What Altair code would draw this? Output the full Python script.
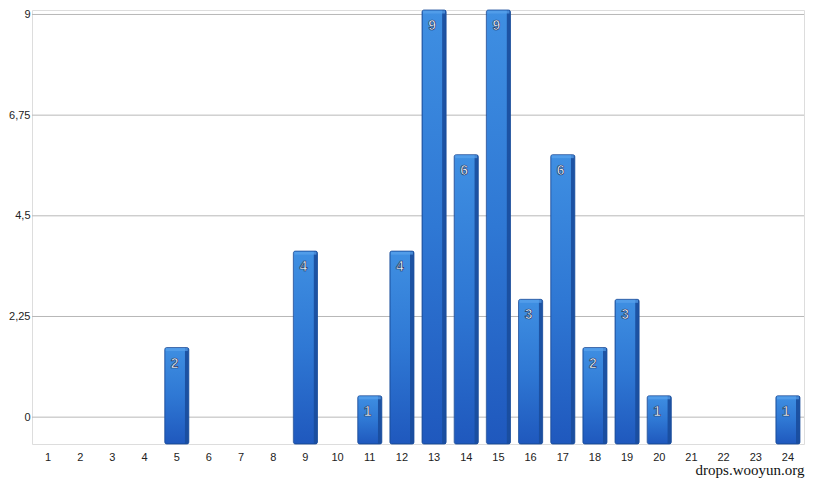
import altair as alt
import pandas as pd

categories = [str(i) for i in range(1, 25)]
values = [0, 0, 0, 0, 2, 0, 0, 0, 4, 0, 1, 4, 9, 6, 9, 3, 6, 2, 3, 1, 0, 0, 0, 1]
grid_values = [0, 2.25, 4.5, 6.75, 9]

bars_df = pd.DataFrame({"cat": categories, "value": values})
grid_df = pd.DataFrame({"g": grid_values})

x_enc = alt.X(
    "cat:O",
    sort=categories,
    scale=alt.Scale(paddingInner=0.25, paddingOuter=0.125),
    axis=alt.Axis(
        title=None, labelAngle=0, domain=False, ticks=False, labelPadding=7,
        labelFontSize=11, labelColor="#222222", labelFont="Liberation Sans",
    ),
)

grid = alt.Chart(grid_df).mark_rule(color="#b8b8b8", strokeWidth=1).encode(
    y=alt.Y(
        "g:Q",
        scale=alt.Scale(domain=[-0.6, 9.1], nice=False, zero=False),
        axis=alt.Axis(
            values=grid_values, title=None, grid=False, domain=False, ticks=False,
            labelPadding=2, labelFontSize=11, labelColor="#222222",
            labelFont="Liberation Sans",
            labelExpr="replace(format(datum.value, '~g'), '.', ',')",
        ),
    )
)

front = alt.Gradient(
    gradient="linear",
    x1=0, x2=0, y1=0, y2=1,
    stops=[
        alt.GradientStop(color="#3f8fe2", offset=0),
        alt.GradientStop(color="#2f78d4", offset=0.5),
        alt.GradientStop(color="#1f58bd", offset=1),
    ],
)

y_bar = alt.Y("value:Q", scale=alt.Scale(domain=[0, 9], nice=False), axis=None)
nonzero = alt.datum.value > 0

base_x = alt.Chart(bars_df).mark_bar(opacity=0).encode(x=x_enc, y=y_bar)

bars = alt.Chart(bars_df).transform_filter(nonzero).mark_bar(
    color=front, stroke="#1b4c9a", strokeWidth=0.8, cornerRadius=2
).encode(x=alt.X("cat:O", sort=categories), y=y_bar)

side = alt.Chart(bars_df).transform_filter(nonzero).mark_bar(
    color="#1a4c9c", width=4, xOffset=10, cornerRadius=1, opacity=0.9
).encode(x=alt.X("cat:O", sort=categories), y=y_bar)

top = alt.Chart(bars_df).transform_filter(nonzero).mark_tick(
    color="#5aa2ec", thickness=3, size=22, yOffset=2
).encode(x=alt.X("cat:O", sort=categories), y=y_bar)

labels = alt.Chart(bars_df).transform_filter(nonzero).mark_text(
    color="#eef4fb", stroke="#1a3563", strokeWidth=0.7, fontSize=14,
    fontWeight="bold", font="Liberation Sans", baseline="top", dy=9, dx=-2,
).encode(x=alt.X("cat:O", sort=categories), y=y_bar, text="value:Q")

chart = (
    alt.layer(grid, alt.layer(base_x, bars, side, top, labels))
    .resolve_scale(y="independent")
    .properties(
        width=772,
        height=434,
        padding={"left": 0, "top": 0, "right": 0, "bottom": 0},
        title=alt.TitleParams(
            "drops.wooyun.org", orient="bottom", anchor="end",
            font="Liberation Serif", fontSize=15, fontWeight="normal",
            color="#111111", offset=1,
        ),
    )
    .configure_view(stroke=None)
    .configure(background="white")
)

chart.save("out.html", embed_options={"renderer": "svg", "actions": False})
